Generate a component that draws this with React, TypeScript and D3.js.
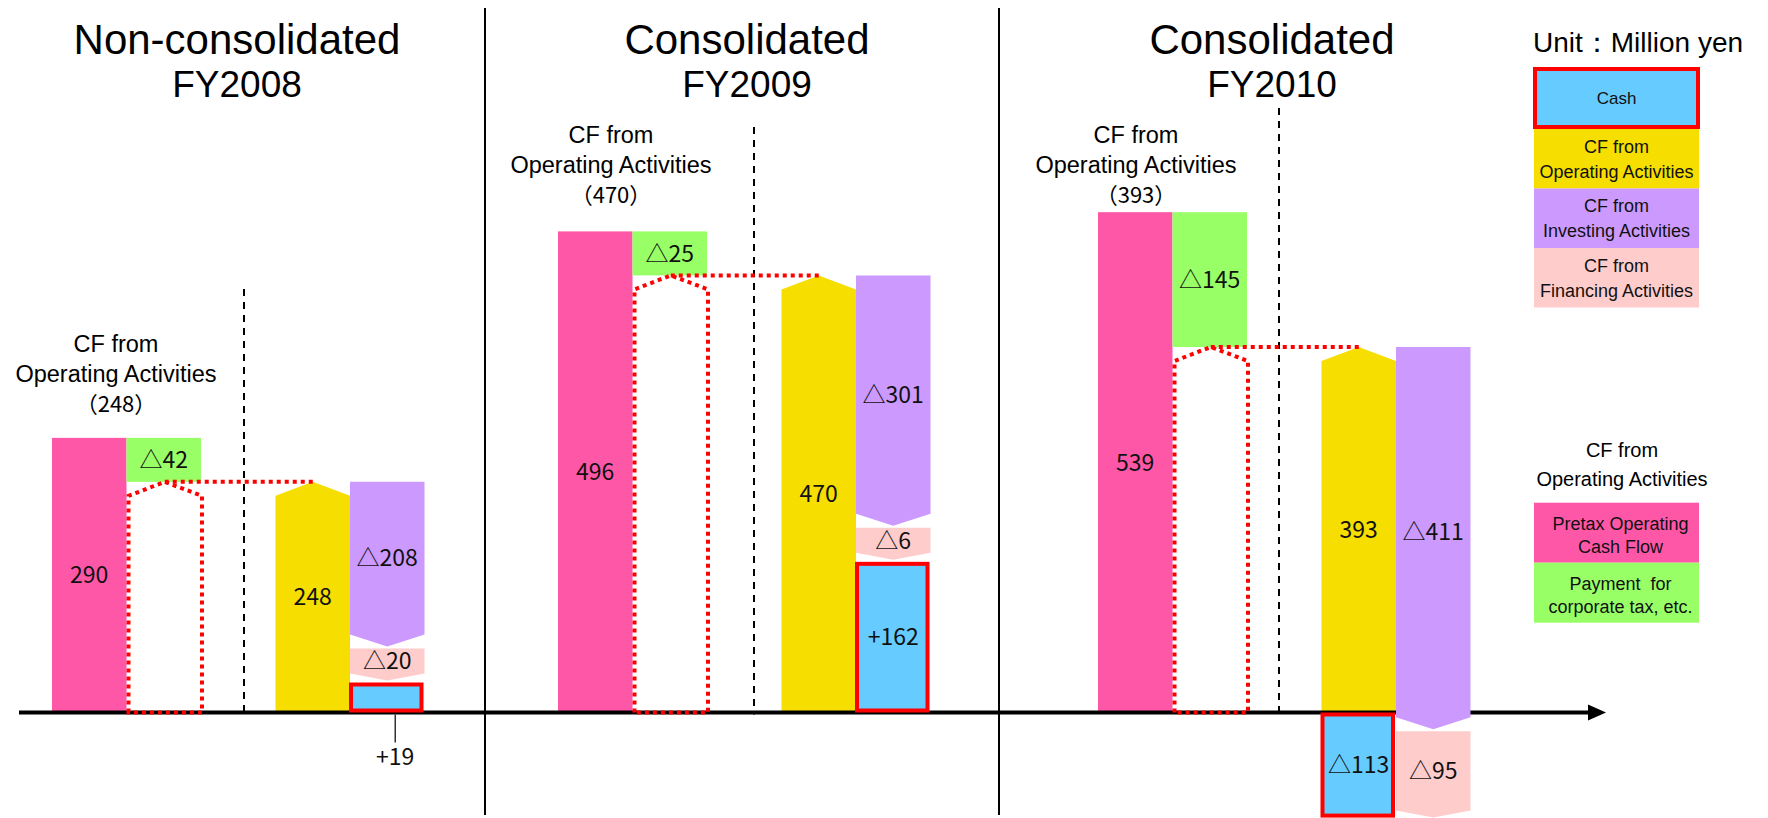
import React from "react";
import * as d3 from "d3";

// ---------- DATA (million yen) ----------
const panelTitles = ["Non-consolidated", "Consolidated", "Consolidated"];
const fiscalYears = ["FY2008", "FY2009", "FY2010"];
const pretaxOperatingCF = [290, 496, 539];
const corporateTaxPaid = [-42, -25, -145];
const operatingCF = [248, 470, 393];
const investingCF = [-208, -301, -411];
const financingCF = [-20, -6, -95];
const cashChange = [19, 162, -113];

const unitLabel = "Unit：Million yen";
const noteLines = ["CF from", "Operating Activities"];
const legendKeys = ["cash", "op", "inv", "fin"];
const legendTexts = [["Cash"], ["CF from", "Operating Activities"], ["CF from", "Investing Activities"], ["CF from", "Financing Activities"]];
const opLegendKeys = ["pretax", "tax"];
const opLegendTexts = [["Pretax Operating", "Cash Flow"], ["Payment  for", "corporate tax, etc."]];

// ---------- STYLE / LAYOUT ----------
const W = 1768;
const H = 818;
const BASE = 712.5;
const COLORS: Record<string, string> = {
  pretax: "#FF57A8",
  tax: "#99FF66",
  op: "#F5DE00",
  inv: "#CC99FF",
  fin: "#FFCCCC",
  cash: "#66CCFF",
  red: "#FF0000",
};
const LATIN = "'Liberation Sans', Arial, sans-serif";
const CJK = "'Noto Sans CJK JP', 'Liberation Sans', sans-serif";
const LAYOUT = [
  { x0: 52, titleX: 237, dashX: 244, dashTop: 289, noteX: 116, noteY: 412 },
  { x0: 558, titleX: 747, dashX: 754, dashTop: 127, noteX: 611, noteY: 203 },
  { x0: 1098, titleX: 1272, dashX: 1279, dashTop: 108, noteX: 1136, noteY: 203 },
];
const SEPARATORS = [485, 999];
const SLOT_W = 74.5;
const SLOTS = ["pretax", "tax", "gap", "op", "flow"];
const MIN_TAX_H = 44;
const MIN_FIN_H = 32;
const MIN_CASH_H = 30;
const GAP = 2;
const CHEV_OP = 14;
const CHEV_INV = 12;
const CHEV_FIN = 7;

const y = d3.scaleLinear().domain([0, 500]).range([BASE, BASE - 465]);

const fmtFlow = (v: number) => (v < 0 ? `△${Math.abs(v)}` : `${v}`);
const fmtCash = (v: number) => (v < 0 ? `△${Math.abs(v)}` : `+${v}`);

function geometry(i: number) {
  const L = LAYOUT[i];
  const x = d3.scaleBand<string>().domain(SLOTS).range([L.x0, L.x0 + SLOT_W * SLOTS.length]);
  const bw = x.bandwidth();
  const op = operatingCF[i];
  const tax = corporateTaxPaid[i];
  const inv = investingCF[i];
  const fin = financingCF[i];
  const cash = cashChange[i];
  const yOp = y(op);
  const greenTop = Math.min(y(op - tax), yOp - MIN_TAX_H);
  const pinkTop = greenTop;
  let invBottom: number, finTop: number, finBottom: number, cashY0: number, cashY1: number, cashSlot: string;
  if (cash >= 0) {
    cashY0 = Math.min(y(cash), BASE - MIN_CASH_H);
    cashY1 = BASE;
    finBottom = cashY0 - GAP;
    finTop = Math.min(y(op + inv), finBottom - MIN_FIN_H);
    invBottom = finTop - GAP;
    cashSlot = "flow";
  } else {
    invBottom = y(op + inv);
    finTop = invBottom + GAP;
    finBottom = Math.max(y(op + inv + fin), finTop + MIN_FIN_H);
    cashY0 = BASE;
    cashY1 = y(cash);
    cashSlot = "op";
  }
  return { L, x, bw, yOp, greenTop, pinkTop, invBottom, finTop, finBottom, cashY0, cashY1, cashSlot };
}

const line = d3.line();

function Panel({ i }: { i: number }) {
  const { L, x, bw, yOp, greenTop, pinkTop } = geometry(i);
  const xP = x("pretax")!;
  const xT = x("tax")!;
  const xO = x("op")!;
  const opShape =
    line([
      [xO, BASE],
      [xO, yOp + CHEV_OP],
      [xO + bw / 2, yOp],
      [xO + bw, yOp + CHEV_OP],
      [xO + bw, BASE],
    ])! + "Z";
  return (
    <g>
      <text x={L.titleX} y={54} textAnchor="middle" fontFamily={LATIN} fontSize={42} fill="#000">
        {panelTitles[i]}
      </text>
      <text x={L.titleX} y={97} textAnchor="middle" fontFamily={LATIN} fontSize={37} fill="#000">
        {fiscalYears[i]}
      </text>
      {noteLines.map((t, k) => (
        <text key={k} x={L.noteX} y={L.noteY - 60 + k * 30} textAnchor="middle" fontFamily={LATIN} fontSize={23.5} fill="#000">
          {t}
        </text>
      ))}
      <text x={L.noteX} y={L.noteY} textAnchor="middle" fontFamily={CJK} fontSize={22} fill="#000">
        {`（${operatingCF[i]}）`}
      </text>
      <line x1={L.dashX} x2={L.dashX} y1={L.dashTop} y2={BASE + 2} stroke="#000" strokeWidth={2} strokeDasharray="7 6" />
      <rect x={xP} y={pinkTop} width={bw} height={BASE - pinkTop} fill={COLORS.pretax} />
      <rect x={xT} y={greenTop} width={bw} height={yOp - greenTop} fill={COLORS.tax} />
      <path d={opShape} fill={COLORS.op} />
    </g>
  );
}

function PanelOverlay({ i }: { i: number }) {
  const { x, bw, yOp, greenTop, pinkTop, invBottom, finTop, finBottom, cashY0, cashY1, cashSlot } = geometry(i);
  const xP = x("pretax")!;
  const xT = x("tax")!;
  const xO = x("op")!;
  const xF = x("flow")!;
  const xC = x(cashSlot)!;
  const afterTax =
    line([
      [xT + 2, BASE],
      [xT + 2, yOp + CHEV_OP],
      [xT + bw / 2 + 1, yOp],
      [xT + bw + 1, yOp + CHEV_OP],
      [xT + bw + 1, BASE],
    ])! + "Z";
  const invShape =
    line([
      [xF, yOp],
      [xF + bw, yOp],
      [xF + bw, invBottom - CHEV_INV],
      [xF + bw / 2, invBottom],
      [xF, invBottom - CHEV_INV],
    ])! + "Z";
  const finShape =
    line([
      [xF, finTop],
      [xF + bw, finTop],
      [xF + bw, finBottom - CHEV_FIN],
      [xF + bw / 2, finBottom],
      [xF, finBottom - CHEV_FIN],
    ])! + "Z";
  const cashTop = Math.min(cashY0, cashY1);
  const cashH = Math.abs(cashY1 - cashY0);
  const cashInside = cashH >= 40;
  const label = (cx: number, cy: number, t: string) => (
    <text x={cx} y={cy} dy="0.36em" textAnchor="middle" fontFamily={CJK} fontSize={23} fill="#111">
      {t}
    </text>
  );
  return (
    <g>
      <path d={afterTax} fill="none" stroke={COLORS.red} strokeWidth={4} strokeDasharray="4 4" />
      <line x1={xT + bw / 2 + 1} x2={xO + bw / 2} y1={yOp} y2={yOp} stroke={COLORS.red} strokeWidth={4} strokeDasharray="4 4" />
      <path d={invShape} fill={COLORS.inv} />
      <path d={finShape} fill={COLORS.fin} />
      <rect x={xC + 1} y={cashTop + 2} width={bw - 4} height={cashH - 4} fill={COLORS.cash} stroke={COLORS.red} strokeWidth={4} />
      {label(xP + bw / 2, (pinkTop + BASE) / 2, fmtFlow(pretaxOperatingCF[i]))}
      {label(xT + bw / 2, (greenTop + yOp) / 2, fmtFlow(corporateTaxPaid[i]))}
      {label(xO + bw / 2, (yOp + BASE) / 2, fmtFlow(operatingCF[i]))}
      {label(xF + bw / 2, (yOp + invBottom - CHEV_INV) / 2, fmtFlow(investingCF[i]))}
      {label(xF + bw / 2, (finTop + finBottom - CHEV_FIN) / 2, fmtFlow(financingCF[i]))}
      {cashInside ? (
        label(xC + bw / 2, cashTop + cashH / 2, fmtCash(cashChange[i]))
      ) : (
        <g>
          <line x1={xC + bw / 2 + 8} x2={xC + bw / 2 + 8} y1={BASE + 2} y2={BASE + 30} stroke="#333" strokeWidth={1.5} />
          {label(xC + bw / 2 + 8, BASE + 44, fmtCash(cashChange[i]))}
        </g>
      )}
    </g>
  );
}

export default function App() {
  const LX = 1534;
  const LW = 165;
  const legendHeights = [62, 59.5, 59.5, 59.5];
  const legendTops = legendHeights.map((_, k) => 67 + d3.sum(legendHeights.slice(0, k)));
  const opTop = 502.7;
  const opH = 60;
  return (
    <svg width={W} height={H} style={{ position: "absolute", left: 0, top: 0, background: "#fff" }}>
      <rect x={0} y={0} width={W} height={H} fill="#fff" />
      {SEPARATORS.map((sx) => (
        <line key={sx} x1={sx} x2={sx} y1={8} y2={815} stroke="#000" strokeWidth={2} />
      ))}
      {LAYOUT.map((_, i) => (
        <Panel key={i} i={i} />
      ))}
      <line x1={19} x2={1592} y1={BASE} y2={BASE} stroke="#000" strokeWidth={4} />
      <path d={`M1588,${BASE - 8}L1606,${BASE}L1588,${BASE + 8}Z`} fill="#000" />
      {LAYOUT.map((_, i) => (
        <PanelOverlay key={i} i={i} />
      ))}
      <text x={1533} y={52} fontFamily={LATIN} fontSize={28} fill="#000">
        {unitLabel}
      </text>
      {legendKeys.map((k, idx) => {
        const top = legendTops[idx];
        const h = legendHeights[idx];
        const mid = top + h / 2;
        const lines = legendTexts[idx];
        return (
          <g key={k}>
            {k === "cash" ? (
              <rect x={LX + 1} y={top + 2} width={LW - 2} height={h - 4} fill={COLORS.cash} stroke={COLORS.red} strokeWidth={4} />
            ) : (
              <rect x={LX} y={top} width={LW} height={h} fill={COLORS[k]} />
            )}
            {lines.map((t, j) => (
              <text
                key={j}
                x={LX + LW / 2}
                y={lines.length === 1 ? mid + 6 : mid - 6 + j * 25}
                textAnchor="middle"
                fontFamily={LATIN}
                fontSize={lines.length === 1 ? 17 : 18}
                fill="#111"
              >
                {t}
              </text>
            ))}
          </g>
        );
      })}
      {noteLines.map((t, j) => (
        <text key={j} x={1622} y={457 + j * 29} textAnchor="middle" fontFamily={LATIN} fontSize={20} fill="#000">
          {t}
        </text>
      ))}
      {opLegendKeys.map((k, idx) => {
        const top = opTop + idx * opH;
        const mid = top + opH / 2;
        return (
          <g key={k}>
            <rect x={LX} y={top} width={LW} height={opH} fill={COLORS[k]} />
            {opLegendTexts[idx].map((t, j) => (
              <text
                key={j}
                x={LX + LW / 2 + 4}
                y={mid - 3 + j * 23}
                textAnchor="middle"
                fontFamily={LATIN}
                fontSize={18}
                fill="#111"
                style={{ whiteSpace: "pre" }}
              >
                {t}
              </text>
            ))}
          </g>
        );
      })}
    </svg>
  );
}
